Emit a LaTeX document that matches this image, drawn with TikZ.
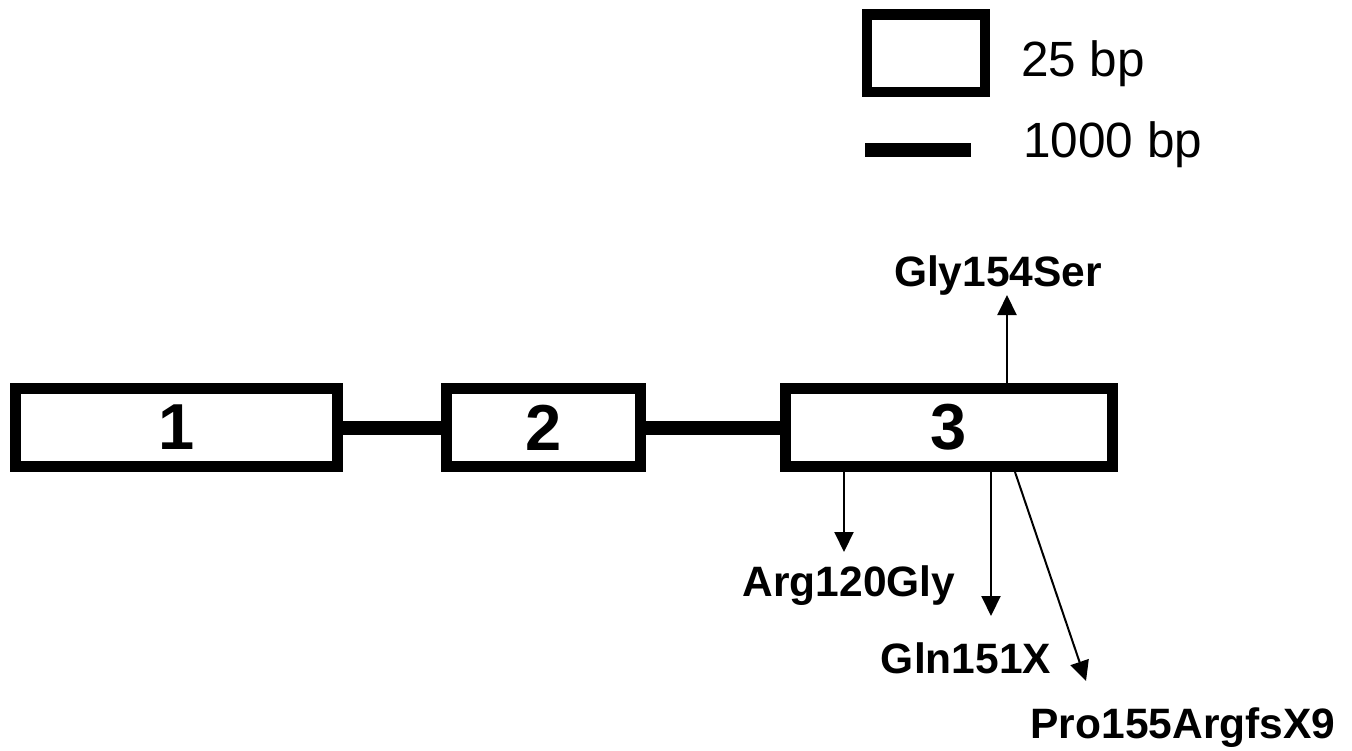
\documentclass[tikz,border=0pt]{standalone}
\usepackage{fontspec}
\setmainfont{Liberation Sans}
\usetikzlibrary{arrows.meta,calc}
\begin{document}
\begin{tikzpicture}[x=1pt,y=-1pt,
  exon/.style={draw=black,line width=11pt,fill=white,inner sep=0pt,minimum height=78pt,
    font=\fontsize{65}{67}\selectfont\bfseries},
  intron/.style={line width=14pt,black},
  mut/.style={line width=2pt,-{Triangle[length=20pt,width=19pt]}},
  mlabel/.style={inner sep=0pt,anchor=base,font=\fontsize{42.5}{44}\selectfont\bfseries},
  legtext/.style={inner sep=0pt,anchor=base west,font=\fontsize{49.5}{52}\selectfont}]
\useasboundingbox (0,0) rectangle (1352,750);
% legend
\node[draw=black,line width=10.5pt,minimum width=118pt,minimum height=77.5pt,inner sep=0pt] (legbox) at (926,53.25) {};
\coordinate (lega) at (865,150);
\coordinate (legb) at (971,150);
\draw[intron] (lega) -- (legb);
\node[legtext] (l25) at (1021,76) {25 bp};
\node[legtext] (l1000) at (1023,157) {1000 bp};
% exons
\node[exon,minimum width=322pt] (e1) at (176.5,427.5) {1};
\node[exon,minimum width=194pt] (e2) at (543.5,427.5) {2};
\node[exon,minimum width=327pt] (e3) at (949,427.5) {3};
\draw[intron] (e1.east) -- (e2.west);
\draw[intron] (e2.east) -- (e3.west);
% mutations
\coordinate (gtip) at (1007,295);
\coordinate (atip) at (844,552);
\coordinate (qtip) at (991,616);
\coordinate (ptip) at (1086,681);
\coordinate (pstart) at (1015,472);
\draw[mut] (e3.north -| gtip) -- (gtip);
\draw[mut] (e3.south -| atip) -- (atip);
\draw[mut] (e3.south -| qtip) -- (qtip);
\draw[mut] (pstart) -- (ptip);
\node[mlabel] (g154) at (998,286) {Gly154Ser};
\node[mlabel] (a120) at (849,596) {Arg120Gly};
\node[mlabel] (q151) at (966,673) {Gln151X};
\node[mlabel] (p155) at (1183,738) {Pro155ArgfsX9};
\end{tikzpicture}
\end{document}
